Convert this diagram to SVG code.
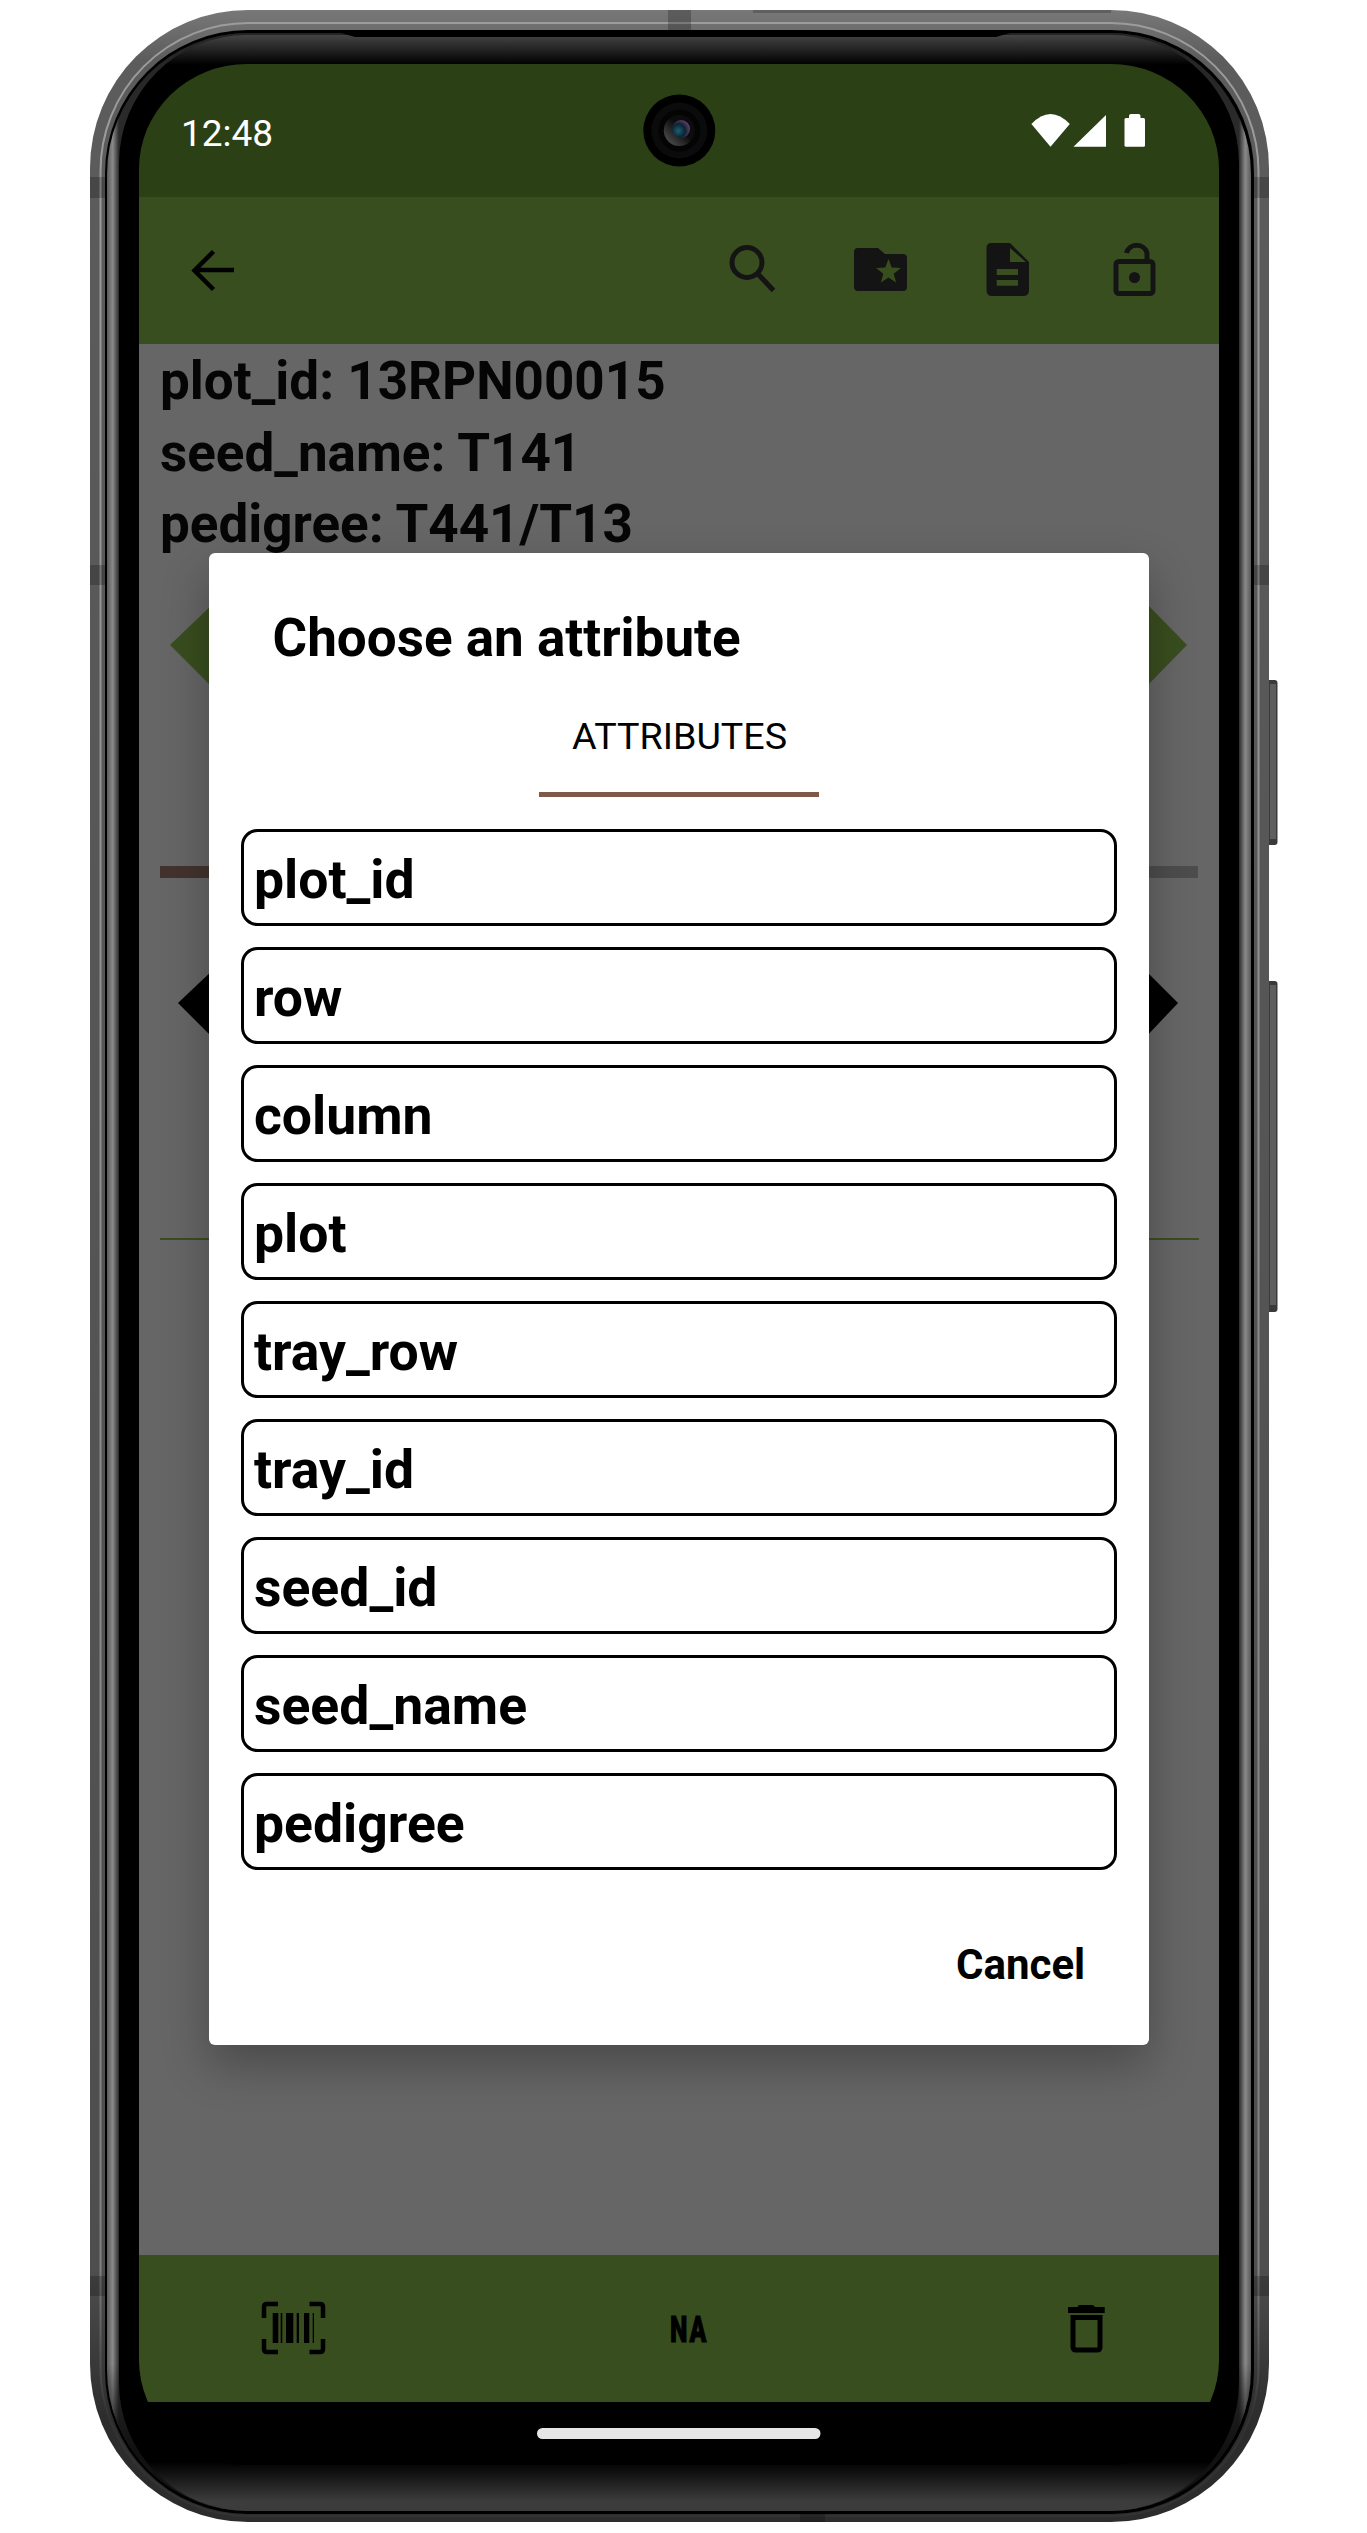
<svg xmlns="http://www.w3.org/2000/svg" width="1367" height="2533" viewBox="0 0 1367 2533">
<style>
text{font-family:Roboto,"Liberation Sans",sans-serif}
.info{font-size:53px;font-weight:700;fill:#050505}
.opt{font-size:53.500px;font-weight:700;fill:#000}
.btn{fill:#fff;stroke:#000;stroke-width:3}
.ico{fill:#141414}
.icos{fill:none;stroke:#141414;stroke-width:5}
.bar{fill:#000}
.gap{fill:#394e1f}
.tick{fill:#000;opacity:.22}
.side{fill:#3a3a3a}
.sideIn{fill:#5e5e5e}
</style>
<defs>
<linearGradient id="rail" gradientUnits="userSpaceOnUse" x1="0" y1="10" x2="0" y2="2522"><stop offset="0" stop-color="#787878"/><stop offset=".02" stop-color="#5c5c5c"/><stop offset=".9" stop-color="#4e4e4e"/><stop offset=".96" stop-color="#2c2c2c"/><stop offset="1" stop-color="#2c2c2c"/></linearGradient>
<linearGradient id="streak" gradientUnits="userSpaceOnUse" x1="0" y1="20" x2="0" y2="2516"><stop offset="0" stop-color="#9c9c9c"/><stop offset=".9" stop-color="#808080"/><stop offset=".96" stop-color="#333"/></linearGradient>
<linearGradient id="band" gradientUnits="userSpaceOnUse" x1="107" y1="0" x2="1251" y2="0"><stop offset="0" stop-color="#5a5a5a"/><stop offset=".005" stop-color="#8a8a8a"/><stop offset=".0105" stop-color="#2a2a2a"/><stop offset=".9895" stop-color="#2a2a2a"/><stop offset=".995" stop-color="#8a8a8a"/><stop offset="1" stop-color="#5a5a5a"/></linearGradient>
<linearGradient id="fade" gradientUnits="userSpaceOnUse" x1="0" y1="33" x2="0" y2="2512"><stop offset="0" stop-color="#242424"/><stop offset=".035" stop-color="#242424" stop-opacity="0"/><stop offset=".94" stop-color="#111" stop-opacity="0"/><stop offset=".975" stop-color="#111"/></linearGradient>
<linearGradient id="inner" gradientUnits="userSpaceOnUse" x1="0" y1="35" x2="0" y2="2511"><stop offset="0" stop-color="#444"/><stop offset=".012" stop-color="#000"/><stop offset=".98" stop-color="#000"/><stop offset=".996" stop-color="#3c3c3c"/><stop offset="1" stop-color="#3c3c3c"/></linearGradient>
<linearGradient id="ring" x1="0" y1="1" x2="1" y2="0"><stop offset="0" stop-color="#5c5c5c"/><stop offset=".55" stop-color="#0c0c0c"/></linearGradient>
<radialGradient id="lens" cx=".35" cy=".6" r=".75"><stop offset="0" stop-color="#1d5f72"/><stop offset=".5" stop-color="#0c2430"/><stop offset=".85" stop-color="#5a3a6a"/><stop offset="1" stop-color="#9a70aa"/></radialGradient>
<clipPath id="scr"><rect x="139" y="64" width="1080" height="2401" rx="108" ry="105"/></clipPath>
<filter id="blur" x="-20%" y="-20%" width="140%" height="140%"><feGaussianBlur stdDeviation="24"/></filter>
</defs>

<g id="side-buttons">
<rect class="side" x="1262" y="680" width="15.500" height="165" rx="3"/><rect class="sideIn" x="1270" y="684" width="6" height="155"/>
<rect class="side" x="1262" y="981" width="15.500" height="331" rx="3"/><rect class="sideIn" x="1270" y="985" width="6" height="320"/>
</g>

<g id="phone-body">
<rect x="90" y="10" width="1179" height="2512" rx="158" fill="url(#rail)"/>
<rect x="100.500" y="23" width="1158" height="2493" rx="148" fill="none" stroke="url(#streak)" stroke-width="2"/>
<rect x="105" y="30" width="1149" height="2484" rx="143" fill="#000"/>
<rect x="107" y="33" width="1144" height="2478" rx="141" fill="url(#band)"/>
<rect x="107" y="33" width="1144" height="2478" rx="141" fill="url(#fade)"/>
<rect x="119" y="35" width="1120" height="2476" rx="128" fill="url(#inner)"/>
<path d="M341 33H1010L996 37H355Z" fill="#000"/>
<rect class="tick" x="90" y="177" width="17" height="21"/><rect class="tick" x="90" y="565" width="17" height="20"/><rect class="tick" x="90" y="2276" width="17" height="20"/>
<rect class="tick" x="1252" y="177" width="17" height="21"/><rect class="tick" x="1252" y="565" width="17" height="20"/><rect class="tick" x="1252" y="2276" width="17" height="20"/>
<rect class="tick" x="668" y="10" width="23" height="20"/><rect class="tick" x="800" y="2512" width="25" height="10"/>
<rect x="753" y="10" width="358" height="3" fill="#000" opacity=".2"/>
</g>

<g clip-path="url(#scr)">
<rect id="screen-bg" x="139" y="64" width="1080" height="2401" fill="#000"/>
<rect x="139" y="344" width="1080" height="1911" fill="#666"/>
<g id="statusbar">
<rect x="139" y="64" width="1080" height="133" fill="#2c4016"/>
</g>
<rect id="toolbar-bg" x="139" y="197" width="1080" height="147" fill="#394e1f"/>
<rect id="bottombar-bg" x="139" y="2255" width="1080" height="147" fill="#394e1f"/>
<rect x="160" y="866" width="49" height="12" fill="#43332e"/>
<rect x="1149" y="866" width="49" height="12" fill="#4d4d4d"/>
<rect x="160" y="1238" width="49" height="2" fill="#394e1f"/>
<rect x="1149" y="1238" width="50" height="2" fill="#394e1f"/>
<path d="M215 602L170 645L215 690Z" fill="#394e1f"/>
<path d="M1143 600L1187 645L1143 690Z" fill="#394e1f"/>
<path d="M215 968L178 1003L215 1040Z" fill="#000"/>
<path d="M1143 968L1178 1003L1143 1040Z" fill="#000"/>
<rect x="208" y="573" width="941" height="1492" fill="#000" opacity=".28" filter="url(#blur)"/>
</g>

<g id="status-icons">
<text x="181" y="146" font-size="37" fill="#fff">12:48</text>
<path d="M1050.500 146.700L1031.400 124Q1050.500 104 1069.800 124Z" fill="#fff"/>
<path d="M1073.500 146.700H1106V115Z" fill="#fff"/>
<rect x="1124.500" y="118" width="20.500" height="28.700" rx="1.500" fill="#fff"/><rect x="1129" y="114" width="11.500" height="6" rx="2" fill="#fff"/>
</g>

<g id="camera">
<circle cx="679.300" cy="130.500" r="36" fill="#000"/>
<circle cx="679.300" cy="130.500" r="28" fill="#0b0b0b"/>
<circle cx="679.300" cy="130.500" r="21" fill="#040404"/>
<circle cx="679.300" cy="130.500" r="15.500" fill="url(#ring)"/>
<circle cx="681" cy="129" r="9" fill="url(#lens)"/>
</g>

<g id="back"><path d="M194 270H234M213.500 251.500L194.500 270.500L213.500 289.500" fill="none" stroke="#000" stroke-width="4.500"/></g>
<g id="search"><circle class="icos" cx="747" cy="262.500" r="15"/><path class="icos" d="M758 274L773.500 290.500" stroke-width="5.500"/></g>
<g id="folder"><path class="ico" d="M858 248H878L885 254H903Q907 254 907 258V287Q907 291 903 291H858Q854 291 854 287V252Q854 248 858 248Z"/><path class="gap" d="M888.500 259L891.700 267.500 900.900 268 893.700 273.700 896.100 282.500 888.500 277.500 880.900 282.500 883.300 273.700 876.100 268 885.300 267.500Z"/></g>
<g id="document"><path class="ico" d="M991.500 243H1010L1029 262V290Q1029 296 1023 296H992Q986.500 296 986.500 290V248Q986.500 243 991.500 243Z"/><path class="gap" d="M1010 248L1026 262H1010ZM996.700 269H1018V275H996.700ZM996.700 280H1018V285.700H996.700Z"/></g>
<g id="lock"><rect class="icos" x="1116" y="261.500" width="37" height="32" rx="3"/><path class="icos" d="M1126.500 253A10.500 10 0 0 1 1147 253V260"/><circle class="ico" cx="1134.500" cy="277.500" r="5.500"/></g>

<g id="info">
<text class="info" x="160" y="399">plot_id: 13RPN00015</text>
<text class="info" x="160" y="470.500">seed_name: T141</text>
<text class="info" x="160" y="542">pedigree: T441/T13</text>
</g>

<g id="dialog">
<rect x="209" y="553" width="940" height="1492" rx="6" fill="#fff"/>
<text x="272.500" y="656" font-size="53" font-weight="700" fill="#000">Choose an attribute</text>
<text x="572" y="748.500" font-size="37.700" fill="#000">ATTRIBUTES</text>
<rect x="539" y="792" width="280" height="5" fill="#7f5a4a"/>
<g id="opt-plot_id"><rect class="btn" x="242.500" y="830.500" width="873" height="94" rx="15"/><text class="opt" x="254" y="897.500">plot_id</text></g>
<g id="opt-row"><rect class="btn" x="242.500" y="948.500" width="873" height="94" rx="15"/><text class="opt" x="254" y="1015.500">row</text></g>
<g id="opt-column"><rect class="btn" x="242.500" y="1066.500" width="873" height="94" rx="15"/><text class="opt" x="254" y="1133.500">column</text></g>
<g id="opt-plot"><rect class="btn" x="242.500" y="1184.500" width="873" height="94" rx="15"/><text class="opt" x="254" y="1251.500">plot</text></g>
<g id="opt-tray_row"><rect class="btn" x="242.500" y="1302.500" width="873" height="94" rx="15"/><text class="opt" x="254" y="1369.500">tray_row</text></g>
<g id="opt-tray_id"><rect class="btn" x="242.500" y="1420.500" width="873" height="94" rx="15"/><text class="opt" x="254" y="1487.500">tray_id</text></g>
<g id="opt-seed_id"><rect class="btn" x="242.500" y="1538.500" width="873" height="94" rx="15"/><text class="opt" x="254" y="1605.500">seed_id</text></g>
<g id="opt-seed_name"><rect class="btn" x="242.500" y="1656.500" width="873" height="94" rx="15"/><text class="opt" x="254" y="1723.500">seed_name</text></g>
<g id="opt-pedigree"><rect class="btn" x="242.500" y="1774.500" width="873" height="94" rx="15"/><text class="opt" x="254" y="1841.500">pedigree</text></g>
<text x="956" y="1979" font-size="42" font-weight="700" fill="#000">Cancel</text>
</g>

<g id="barcode">
<path d="M278 2304H267Q264 2304 264 2307V2318M309.500 2304H320Q323 2304 323 2307V2318M264 2339V2349Q264 2352 267 2352H278M323 2339V2349Q323 2352 320 2352H309.500" fill="none" stroke="#000" stroke-width="4.500"/>
<path class="bar" d="M272.700 2313H278.300V2343H272.700ZM280.700 2313H282.300V2343H280.700ZM286 2313H293.300V2343H286ZM296.700 2313H299V2343H296.700ZM304 2313H309.300V2343H304ZM312.700 2313H314V2343H312.700Z"/>
</g>
<g id="na"><text transform="translate(670 2341.700) scale(.66 1)" font-size="37.500" font-weight="900" fill="#000" stroke="#000" stroke-width="1" letter-spacing="3">NA</text></g>
<g id="trash">
<rect x="1068" y="2307" width="36.700" height="6" fill="#000"/><path d="M1077.500 2307Q1078 2305 1080 2305H1092Q1094 2305 1095 2307Z" fill="#000"/>
<path d="M1073 2315V2347Q1073 2350 1076 2350H1097Q1100 2350 1100 2347V2315M1073 2317.500H1100" fill="none" stroke="#000" stroke-width="5"/>
</g>
<rect id="home-indicator" x="537" y="2428" width="283.500" height="11" rx="5.500" fill="#e6e6e6"/>
</svg>
